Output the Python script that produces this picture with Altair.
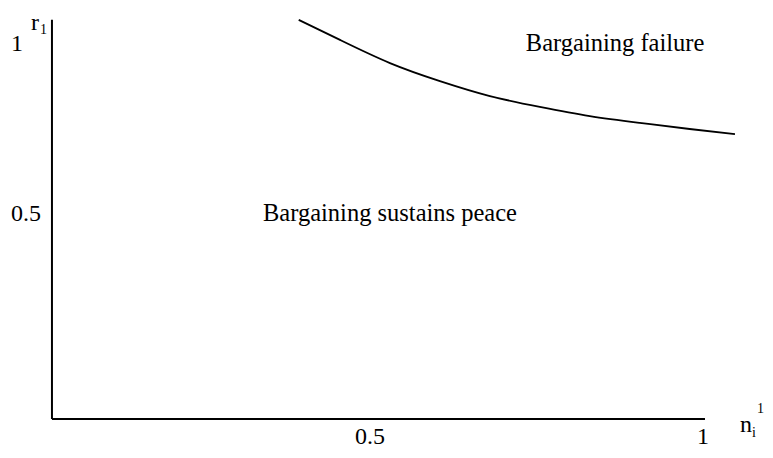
import altair as alt
import pandas as pd

# Boundary curve (r1 threshold as function of n_i^1)
curve_x = [0.393, 0.455, 0.530, 0.605, 0.680, 0.755, 0.830, 0.905, 0.980, 1.048]
curve_y = [1.071, 1.012, 0.944, 0.891, 0.847, 0.815, 0.788, 0.768, 0.750, 0.735]

# Axis frame (drawn as lines)
axis_origin_x = 0.0225
axis_origin_y = -0.103
axis_x_end = 1.003
axis_y_end = 1.071

# Tick labels
x_tick_values = [0.5, 1.0]
x_tick_labels = ["0.5", "1"]
y_tick_values = [0.5, 1.0]
y_tick_labels = ["0.5", "1"]
y_tick_label_x = [-0.0165, -0.030]
x_tick_label_y = -0.156

# Region annotations
region_labels = ["Bargaining failure", "Bargaining sustains peace"]
region_x = [0.868, 0.530]
region_y = [1.0, 0.5]

FONT = "Times New Roman, Liberation Serif, DejaVu Serif, serif"
xs = alt.Scale(domain=[-0.0435, 1.0931], nice=False, zero=False)
ys = alt.Scale(domain=[-0.1941, 1.1059], nice=False, zero=False)
X = lambda f: alt.X(f, type="quantitative", scale=xs, axis=None)
Y = lambda f: alt.Y(f, type="quantitative", scale=ys, axis=None)

curve = alt.Chart(pd.DataFrame({"x": curve_x, "y": curve_y})).mark_line(
    color="black", strokeWidth=1.8, interpolate="natural"
).encode(x=X("x"), y=Y("y"))

frame_df = pd.DataFrame({
    "x": [axis_origin_x, axis_origin_x],
    "y": [axis_origin_y, axis_origin_y],
    "x2": [axis_x_end, axis_origin_x],
    "y2": [axis_origin_y, axis_y_end],
})
frame = alt.Chart(frame_df).mark_rule(color="black", strokeWidth=2).encode(
    x=X("x"), y=Y("y"), x2="x2", y2="y2"
)

xt = alt.Chart(pd.DataFrame({"x": x_tick_values, "t": x_tick_labels, "y": [x_tick_label_y] * 2})).mark_text(
    font=FONT, fontSize=24, color="black", baseline="middle", align="center"
).encode(x=X("x"), y=Y("y"), text="t")

yt = alt.Chart(pd.DataFrame({"x": y_tick_label_x, "t": y_tick_labels, "y": y_tick_values})).mark_text(
    font=FONT, fontSize=24, color="black", baseline="middle", align="center"
).encode(x=X("x"), y=Y("y"), text="t")

regions = alt.Chart(pd.DataFrame({"x": region_x, "y": region_y, "t": region_labels})).mark_text(
    font=FONT, fontSize=24.5, color="black", baseline="middle", align="center"
).encode(x=X("x"), y=Y("y"), text="t")

# Axis titles: r_1 (y) and n_i^1 (x)
def label(xv, yv, t, size, dx, dy):
    return alt.Chart(pd.DataFrame({"x": [xv], "y": [yv], "t": [t]})).mark_text(
        font=FONT, fontSize=size, color="black", baseline="alphabetic", align="left", dx=dx, dy=dy
    ).encode(x=X("x"), y=Y("y"), text="t")

ylab_main = label(axis_origin_x, axis_y_end, "r", 24, -21, 10)
ylab_sub = label(axis_origin_x, axis_y_end, "1", 14, -12, 14)

xlab_main = label(axis_x_end, axis_origin_y, "n", 24, 35, 13)
xlab_sub = label(axis_x_end, axis_origin_y, "i", 14, 47, 18)
xlab_sup = label(axis_x_end, axis_origin_y, "1", 14, 52, -6)

chart = alt.layer(
    frame, curve, xt, yt, regions, ylab_main, ylab_sub, xlab_main, xlab_sub, xlab_sup
).properties(
    width=757, height=442, autosize=alt.AutoSizeParams(type="none"), padding=0
).configure_view(stroke=None)

chart.save("out.html", embed_options={"renderer": "svg", "actions": False})
